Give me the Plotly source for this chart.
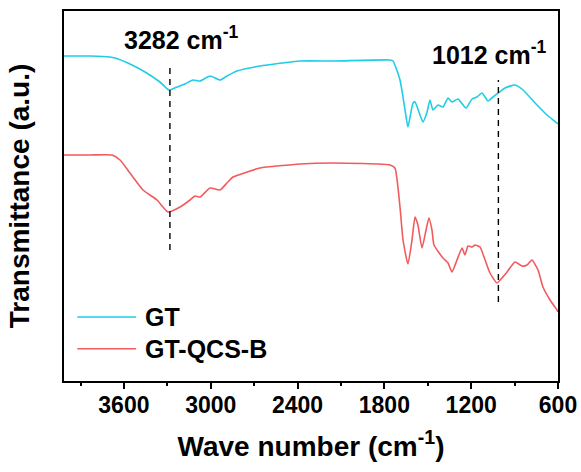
import plotly.graph_objects as go

# Wavenumbers (cm-1) and transmittance (a.u., offset curves)
gt_wn = [4014, 3834, 3696, 3662, 3558, 3454, 3351, 3288, 3233, 3178, 3123, 3074, 3005, 2936,
         2888, 2818, 2659, 2383, 2155, 1761, 1740, 1692, 1657, 1637, 1602, 1588, 1561, 1533,
         1505, 1485, 1464, 1429, 1395, 1360, 1333, 1291, 1236, 1194, 1160, 1125, 1084, 1049,
         1022, 966, 897, 842, 745, 676, 607, 600]
gt_t = [325, 325, 324, 323, 317, 309, 299, 291, 294, 297, 301, 300, 305, 301,
        305, 310, 315, 320, 320, 321, 320, 301, 271, 254, 278, 279, 269, 259,
        269, 281, 271, 276, 274, 283, 279, 282, 273, 282, 284, 288, 280, 284,
        287, 293, 296, 291, 276, 266, 258, 257]

qcs_wn = [4014, 3834, 3682, 3627, 3558, 3468, 3371, 3330, 3295, 3212, 3143, 3109, 3074, 3005,
          2936, 2888, 2846, 2750, 2659, 2383, 2155, 1761, 1727, 1692, 1671, 1637, 1609, 1588, 1568,
          1540, 1512, 1492, 1471, 1457, 1395, 1360, 1333, 1298, 1263, 1243, 1222, 1194, 1174,
          1139, 1104, 1070, 1022, 987, 952, 897, 849, 814, 780, 738, 704, 655, 607, 600]
qcs_t = [226, 226, 226, 221, 208, 191, 181, 174, 169, 174, 181, 185, 184, 193,
         191, 198, 204, 209, 213, 217, 218, 216, 213, 174, 141, 117, 141, 164, 156,
         133, 151, 163, 151, 136, 123, 118, 109, 121, 133, 126, 135, 134, 136,
         134, 121, 108, 98, 103, 109, 119, 115, 116, 121, 111, 94, 81, 71, 69]

series_names = ["GT", "GT-QCS-B"]
series_colors = ["#1FCDE6", "#F25B5E"]

peak_wn = [3282, 1012]
peak_lines_y = [(131, 314), (79, 301)]
peak_label_pos = [(3199, 343), (1070, 328)]

tick_vals = [3600, 3000, 2400, 1800, 1200, 600]
minor_vals = [3900, 3300, 2700, 2100, 1500, 900]

FONT = "Arial, 'Liberation Sans', sans-serif"

fig = go.Figure()
for wn, t, name, col in zip([gt_wn, qcs_wn], [gt_t, qcs_t], series_names, series_colors):
    fig.add_trace(go.Scatter(x=wn, y=t, mode="lines", name=name,
                             line=dict(color=col, width=1.6, shape="spline", smoothing=0.5),
                             showlegend=False))

for p, (y0, y1), (lx, ly) in zip(peak_wn, peak_lines_y, peak_label_pos):
    fig.add_shape(type="line", x0=p, x1=p, y0=y0, y1=y1, xref="x", yref="y",
                  line=dict(color="black", width=1.4, dash="6px,5px"))
    fig.add_annotation(x=lx, y=ly, xref="x", yref="y", showarrow=False,
                       text=f"{p} cm<sup>-1</sup>",
                       font=dict(family=FONT, size=25, color="black", weight="bold"))

# manual legend (long line symbols)
leg_rows = [0.173, 0.087]
for name, col, ry in zip(series_names, series_colors, leg_rows):
    fig.add_shape(type="line", xref="paper", yref="paper", x0=0.027, x1=0.146, y0=ry, y1=ry,
                  line=dict(color=col, width=1.6))
    fig.add_annotation(xref="paper", yref="paper", x=0.160, y=ry, xanchor="left", yanchor="middle",
                       showarrow=False, text=name,
                       font=dict(family=FONT, size=25, color="black", weight="bold"))

fig.update_layout(
    width=581, height=472,
    margin=dict(l=64, r=23, t=11, b=91),
    plot_bgcolor="white", paper_bgcolor="white",
    font=dict(family=FONT, color="black", weight="bold"),
    xaxis=dict(range=[4014, 600], tickvals=tick_vals, ticks="outside", ticklen=6, tickwidth=2,
               minor=dict(tickvals=minor_vals, ticks="outside",
                          ticklen=3, tickwidth=2, tickcolor="black"),
               tickcolor="black", showline=True, linecolor="black", linewidth=2, mirror=True,
               showgrid=False, zeroline=False, automargin=False, ticklabelstandoff=-4,
               tickfont=dict(family=FONT, size=23, color="black", weight="bold"),
               title=dict(text="Wave number (cm<sup>-1</sup>)", standoff=20,
                          font=dict(family=FONT, size=28, color="black", weight="bold"))),
    yaxis=dict(range=[0, 370], showticklabels=False, ticks="", showline=True, linecolor="black",
               linewidth=2, mirror=True, showgrid=False, zeroline=False, automargin=False,
               title=dict(text="Transmittance (a.u.)", standoff=24,
                          font=dict(family=FONT, size=28, color="black", weight="bold"))),
)

fig.write_html("out.html")
